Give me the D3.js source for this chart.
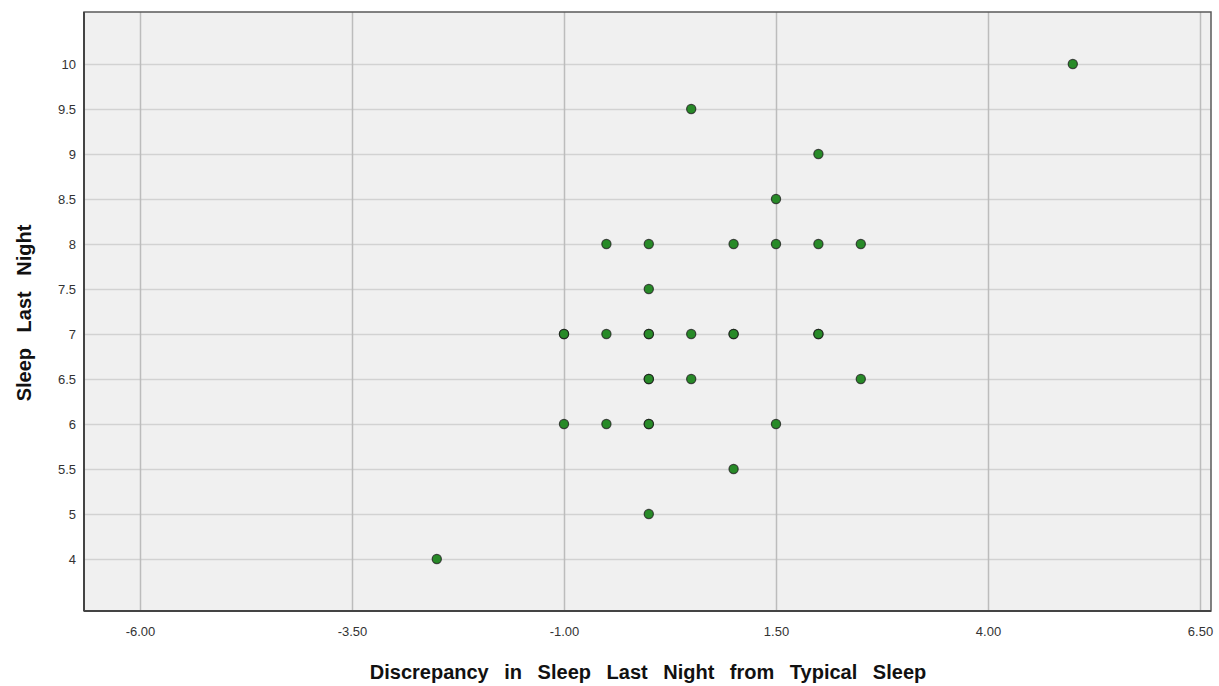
<!DOCTYPE html>
<html><head><meta charset="utf-8">
<script src="https://cdn.jsdelivr.net/npm/d3@7"></script>
<style>body{margin:0;background:#fff;font-family:"Liberation Sans",Arial,sans-serif;}</style>
</head><body>
<svg id="c" width="1219" height="686"></svg>
<script>
const xValues = [5, 0.5, 2, 1.5, -0.5, 0, 1, 1.5, 2, 2.5, 0, -1, -1, -0.5, 0, 0, 0.5, 1, 1, 2, 2, 0, 0, 0.5, 2.5, -1, -0.5, 0, 0, 1.5, 1, 0, -2.5];
const yValues = ["10", "9.5", "9", "8.5", "8", "8", "8", "8", "8", "8", "7.5", "7", "7", "7", "7", "7", "7", "7", "7", "7", "7", "6.5", "6.5", "6.5", "6.5", "6", "6", "6", "6", "6", "5.5", "5", "4"];
const xTicks = [-6, -3.5, -1, 1.5, 4, 6.5];
const yCategories = ["4","5","5.5","6","6.5","7","7.5","8","8.5","9","9.5","10"];
const xTitle = "Discrepancy in Sleep Last Night from Typical Sleep";
const yTitle = "Sleep Last Night";

const svg = d3.select("#c");
const L = 84, R = 1211, T = 12, B = 611;
const x = d3.scaleLinear().domain([-6, 6.5]).range([140, 1200]);
const y = d3.scalePoint().domain(yCategories).range([559, 64]);

svg.append("rect").attr("x", L).attr("y", T).attr("width", R - L).attr("height", B - T).attr("fill", "#f0f0f0");

const gy = svg.append("g").attr("transform", `translate(${L},0)`)
  .call(d3.axisLeft(y).tickSize(-(R - L)).tickPadding(8));
gy.select(".domain").remove();
gy.selectAll("line").attr("stroke", "#d2d2d2").attr("stroke-width", 1.5);
gy.selectAll("text").attr("fill", "#333").style("font-size", "13px").style("font-family", "Liberation Sans, Arial, sans-serif");

const gx = svg.append("g").attr("transform", `translate(0,${B})`)
  .call(d3.axisBottom(x).tickValues(xTicks).tickFormat(d => d.toFixed(2)).tickSize(-(B - T)).tickPadding(16));
gx.select(".domain").remove();
gx.selectAll("line").attr("stroke", "#bcbcbc").attr("stroke-width", 1.5);
gx.selectAll("text").attr("fill", "#333").style("font-size", "13px").style("font-family", "Liberation Sans, Arial, sans-serif");

svg.append("rect").attr("x", L).attr("y", T).attr("width", R - L).attr("height", B - T)
  .attr("fill", "none").attr("stroke", "#5a5a5a").attr("stroke-width", 1.5);
svg.append("line").attr("x1", L).attr("x2", L).attr("y1", T).attr("y2", B).attr("stroke", "#444").attr("stroke-width", 2);
svg.append("line").attr("x1", L).attr("x2", R).attr("y1", B).attr("y2", B).attr("stroke", "#444").attr("stroke-width", 2);

svg.append("g").selectAll("circle").data(xValues.map((v, i) => [v, yValues[i]])).join("circle")
  .attr("cx", d => x(d[0])).attr("cy", d => y(d[1])).attr("r", 4.6)
  .attr("fill", "#288a28").attr("stroke", "#1a1a1a").attr("stroke-opacity", 0.75).attr("stroke-width", 1.2);

svg.append("text").attr("x", 648).attr("y", 679).attr("text-anchor", "middle")
  .style("font-size", "20px").style("font-weight", "bold").style("word-spacing", "10px").attr("fill", "#111").text(xTitle);
svg.append("text").attr("transform", "translate(31,313) rotate(-90)").attr("text-anchor", "middle")
  .style("font-size", "20px").style("font-weight", "bold").style("word-spacing", "10px").attr("fill", "#111").text(yTitle);
</script>
</body></html>
